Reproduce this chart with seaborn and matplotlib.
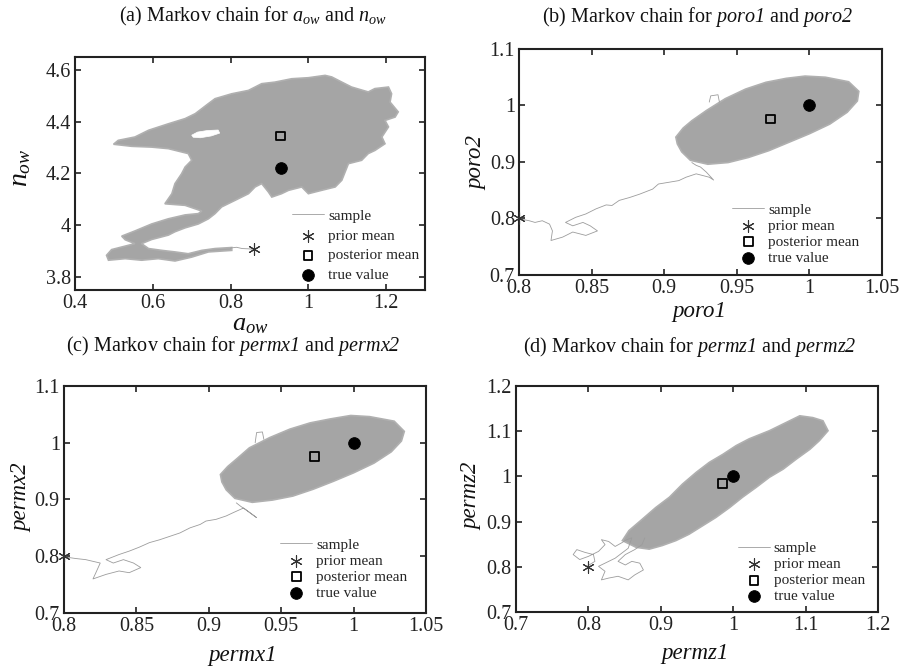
import matplotlib as mpl
import matplotlib.pyplot as plt
import seaborn as sns
import numpy as np

sns.set_style('ticks')
plt.rcParams['font.family'] = ['Liberation Serif', 'DejaVu Serif']
plt.rcParams['mathtext.fontset'] = 'custom'
plt.rcParams['mathtext.rm'] = 'Liberation Serif'
plt.rcParams['mathtext.it'] = 'Liberation Serif:italic'
plt.rcParams['mathtext.bf'] = 'Liberation Serif:bold'
# sf slot used for fully italic words (digits included)
plt.rcParams['mathtext.sf'] = 'Liberation Serif:italic'

GRAY = '#a5a5a5'
LINE_GRAY = '#9c9c9c'

blob_a_x = [0.481, 0.494, 0.520, 0.554, 0.529, 0.520, 0.554, 0.597, 0.640, 0.683, 0.717, 0.726,
            0.683, 0.631, 0.649, 0.657, 0.674, 0.683, 0.700, 0.691, 0.640, 0.597, 0.546, 0.499,
            0.511, 0.554, 0.589, 0.640, 0.683, 0.709, 0.743, 0.760, 0.803, 0.846, 0.880, 0.914,
            0.957, 1.000, 1.043, 1.060, 1.086, 1.111, 1.154, 1.171, 1.206, 1.214, 1.210, 1.231,
            1.223, 1.197, 1.206, 1.189, 1.197, 1.171, 1.154, 1.137, 1.103, 1.086, 1.069, 1.034,
            1.000, 0.983, 0.949, 0.931, 0.906, 0.897, 0.880, 0.863, 0.846, 0.811, 0.777, 0.760,
            0.743, 0.717, 0.683, 0.657, 0.640, 0.597, 0.571, 0.589, 0.623, 0.657, 0.691, 0.726,
            0.760, 0.803, 0.803, 0.743, 0.700, 0.657, 0.614, 0.571, 0.529, 0.486]
blob_a_y = [3.884, 3.906, 3.916, 3.929, 3.944, 3.958, 3.978, 4.005, 4.025, 4.040, 4.045, 4.055,
            4.077, 4.083, 4.122, 4.161, 4.199, 4.225, 4.251, 4.277, 4.296, 4.302, 4.305, 4.313,
            4.328, 4.341, 4.367, 4.392, 4.412, 4.431, 4.470, 4.489, 4.508, 4.521, 4.547, 4.553,
            4.566, 4.570, 4.579, 4.573, 4.553, 4.534, 4.515, 4.528, 4.534, 4.508, 4.476, 4.438,
            4.418, 4.405, 4.380, 4.341, 4.315, 4.289, 4.277, 4.251, 4.238, 4.174, 4.148, 4.135,
            4.122, 4.148, 4.135, 4.122, 4.109, 4.129, 4.161, 4.148, 4.122, 4.096, 4.071, 4.045,
            4.025, 4.005, 3.990, 3.975, 3.962, 3.945, 3.929, 3.910, 3.903, 3.897, 3.890, 3.903,
            3.910, 3.914, 3.903, 3.897, 3.877, 3.862, 3.871, 3.865, 3.871, 3.865]
hole_a_x = [0.700, 0.715, 0.740, 0.768, 0.772, 0.750, 0.722, 0.704]
hole_a_y = [4.348, 4.360, 4.366, 4.368, 4.356, 4.345, 4.338, 4.340]
tail_a_x = [0.800, 0.815, 0.830, 0.845, 0.861]
tail_a_y = [3.912, 3.915, 3.910, 3.909, 3.907]
prior_a, post_a, true_a = (0.861, 3.907), (0.929, 4.345), (0.930, 4.221)

# ---- (b) poro1 / poro2
blob_b_x = [0.908, 0.913, 0.919, 0.929, 0.942, 0.956, 0.970, 0.984, 0.997, 1.011, 1.027, 1.034,
            1.033, 1.026, 1.014, 1.000, 0.986, 0.972, 0.958, 0.944, 0.930, 0.918, 0.912, 0.909]
blob_b_y = [0.944, 0.960, 0.973, 0.991, 1.012, 1.029, 1.041, 1.048, 1.052, 1.050, 1.042, 1.025,
            1.008, 0.988, 0.967, 0.950, 0.935, 0.920, 0.908, 0.899, 0.896, 0.903, 0.918, 0.932]
tail_b_x = [0.801, 0.807, 0.811, 0.816, 0.821, 0.823, 0.822, 0.830, 0.837, 0.846, 0.854, 0.849,
            0.844, 0.837, 0.832, 0.839, 0.846, 0.853, 0.860, 0.864, 0.869, 0.876, 0.883, 0.892,
            0.896, 0.903, 0.910, 0.915, 0.922, 0.931, 0.934, 0.929, 0.925, 0.922, 0.919]
tail_b_y = [0.799, 0.796, 0.793, 0.796, 0.790, 0.778, 0.761, 0.767, 0.776, 0.770, 0.778, 0.787,
            0.793, 0.787, 0.793, 0.802, 0.808, 0.817, 0.824, 0.823, 0.832, 0.837, 0.843, 0.852,
            0.861, 0.864, 0.867, 0.873, 0.879, 0.873, 0.868, 0.882, 0.891, 0.894, 0.899]
loop_b_x = [0.931, 0.932, 0.937, 0.938]
loop_b_y = [1.006, 1.017, 1.019, 1.006]
prior_b, post_b, true_b = (0.800, 0.800), (0.973, 0.976), (1.000, 1.000)

# ---- (c) permx1 / permx2
blob_c_x = [0.908, 0.913, 0.919, 0.928, 0.942, 0.956, 0.970, 0.984, 0.998, 1.011, 1.028, 1.035,
            1.033, 1.026, 1.014, 1.000, 0.986, 0.972, 0.958, 0.944, 0.930, 0.918, 0.912, 0.909]
blob_c_y = [0.944, 0.958, 0.971, 0.991, 1.009, 1.024, 1.035, 1.042, 1.048, 1.046, 1.038, 1.020,
            1.003, 0.984, 0.964, 0.947, 0.932, 0.918, 0.906, 0.899, 0.895, 0.902, 0.917, 0.931]
tail_c_x = [0.800, 0.808, 0.815, 0.820, 0.825, 0.822, 0.820, 0.829, 0.838, 0.845, 0.853, 0.848,
            0.841, 0.834, 0.829, 0.838, 0.845, 0.852, 0.859, 0.866, 0.873, 0.880, 0.887, 0.894,
            0.898, 0.905, 0.912, 0.917, 0.924, 0.933, 0.926, 0.922, 0.919]
tail_c_y = [0.799, 0.796, 0.794, 0.791, 0.788, 0.771, 0.760, 0.768, 0.774, 0.771, 0.780, 0.788,
            0.794, 0.788, 0.794, 0.803, 0.809, 0.816, 0.824, 0.829, 0.835, 0.841, 0.850, 0.856,
            0.862, 0.865, 0.871, 0.877, 0.885, 0.868, 0.881, 0.888, 0.894]
loop_c_x = [0.932, 0.933, 0.937, 0.938]
loop_c_y = [1.000, 1.018, 1.019, 1.006]
prior_c, post_c, true_c = (0.800, 0.800), (0.973, 0.976), (1.000, 1.000)

# ---- (d) permz1 / permz2
blob_d_x = [0.847, 0.856, 0.875, 0.893, 0.912, 0.930, 0.949, 0.967, 0.986, 1.004, 1.022, 1.050,
            1.078, 1.092, 1.110, 1.124, 1.131, 1.119, 1.106, 1.087, 1.069, 1.050, 1.032, 1.013,
            0.995, 0.976, 0.958, 0.939, 0.921, 0.902, 0.884, 0.866]
blob_d_y = [0.858, 0.880, 0.906, 0.931, 0.954, 0.983, 1.009, 1.031, 1.049, 1.068, 1.083, 1.101,
            1.123, 1.134, 1.130, 1.123, 1.101, 1.079, 1.060, 1.038, 1.016, 0.998, 0.976, 0.954,
            0.931, 0.909, 0.891, 0.872, 0.858, 0.847, 0.839, 0.843]
tail_d_x = [0.799, 0.809, 0.807, 0.795, 0.784, 0.779, 0.788, 0.800, 0.814, 0.823, 0.818, 0.828,
            0.837, 0.846, 0.853, 0.860, 0.855, 0.846, 0.837, 0.823, 0.814, 0.823, 0.818, 0.828,
            0.841, 0.855, 0.864, 0.876, 0.871, 0.860, 0.851, 0.841, 0.851, 0.864, 0.874, 0.878]
tail_d_y = [0.802, 0.812, 0.827, 0.832, 0.838, 0.827, 0.816, 0.823, 0.834, 0.849, 0.860, 0.856,
            0.845, 0.853, 0.860, 0.864, 0.841, 0.830, 0.819, 0.808, 0.801, 0.790, 0.771, 0.775,
            0.779, 0.771, 0.782, 0.793, 0.808, 0.812, 0.804, 0.812, 0.827, 0.838, 0.849, 0.864]
prior_d, post_d, true_d = (0.800, 0.800), (0.985, 0.984), (1.000, 1.000)


def draw_panel(ax, bx, by, tx, ty, prior, post, true, xlim, ylim, xticks, yticks,
               anchor, spacing, extra=None, hole=None):
    ax.fill(bx, by, facecolor=GRAY, edgecolor='#b0b0b0', lw=1.2, zorder=1)
    if hole is not None:
        ax.fill(hole[0], hole[1], facecolor='white', edgecolor='white', lw=0.5, zorder=1.5)
    if extra is not None:
        ax.plot(extra[0], extra[1], color=LINE_GRAY, lw=0.6, zorder=2)
    sns.lineplot(x=tx, y=ty, sort=False, estimator=None, color=LINE_GRAY, lw=0.6,
                 label='sample', ax=ax, zorder=2)
    sns.scatterplot(x=[prior[0]], y=[prior[1]], marker=(6, 2, 0), s=70, color='#333333',
                    linewidth=0.8, label='prior mean', ax=ax, zorder=4)
    ax.collections[-1].set_clip_on(False)
    sns.scatterplot(x=[post[0]], y=[post[1]], marker='s', s=40, facecolor='none',
                    edgecolor='black', linewidth=1.3, label='posterior mean', ax=ax, zorder=3)
    sns.scatterplot(x=[true[0]], y=[true[1]], marker='o', s=70, color='black',
                    edgecolor='black', label='true value', ax=ax, zorder=3)
    ax.set_xlim(*xlim)
    ax.set_ylim(*ylim)
    ax.set_xticks(xticks)
    ax.set_yticks(yticks)
    ax.set_xticklabels(['%g' % v for v in xticks])
    ax.set_yticklabels(['%g' % v for v in yticks])
    ax.set_xlabel('')
    ax.set_ylabel('')
    ax.tick_params(direction='in', length=4, width=1.2, top=True, right=True,
                   labelsize=14.5, pad=3, colors='#222222')
    for sp in ax.spines.values():
        sp.set_visible(True)
        sp.set_linewidth(1.5)
        sp.set_color('#222222')
    ax.legend(loc='upper left', bbox_to_anchor=anchor, frameon=False, fontsize=11,
              handlelength=2.1, handletextpad=0.25, labelspacing=spacing,
              borderpad=0, borderaxespad=0)


fig = plt.figure(figsize=(9.03, 6.70), dpi=100)
ax_a = fig.add_axes([0.0831, 0.5672, 0.3876, 0.3477])
ax_b = fig.add_axes([0.5748, 0.5896, 0.4020, 0.3373])
ax_c = fig.add_axes([0.0709, 0.0851, 0.4009, 0.3388])
ax_d = fig.add_axes([0.5714, 0.0866, 0.4009, 0.3373])

draw_panel(ax_a, blob_a_x, blob_a_y, tail_a_x, tail_a_y, prior_a, post_a, true_a,
           (0.4, 1.3), (3.75, 4.65), [0.4, 0.6, 0.8, 1, 1.2], [3.8, 4, 4.2, 4.4, 4.6],
           (0.62, 0.347), 0.4, hole=(hole_a_x, hole_a_y))
draw_panel(ax_b, blob_b_x, blob_b_y, tail_b_x, tail_b_y, prior_b, post_b, true_b,
           (0.8, 1.05), (0.7, 1.1), [0.8, 0.85, 0.9, 0.95, 1, 1.05], [0.7, 0.8, 0.9, 1, 1.1],
           (0.587, 0.318), 0.15, extra=(loop_b_x, loop_b_y))
draw_panel(ax_c, blob_c_x, blob_c_y, tail_c_x, tail_c_y, prior_c, post_c, true_c,
           (0.8, 1.05), (0.7, 1.1), [0.8, 0.85, 0.9, 0.95, 1, 1.05], [0.7, 0.8, 0.9, 1, 1.1],
           (0.597, 0.330), 0.15, extra=(loop_c_x, loop_c_y))
draw_panel(ax_d, blob_d_x, blob_d_y, tail_d_x, tail_d_y, prior_d, post_d, true_d,
           (0.7, 1.2), (0.7, 1.2), [0.7, 0.8, 0.9, 1, 1.1, 1.2], [0.7, 0.8, 0.9, 1, 1.1, 1.2],
           (0.613, 0.311), 0.15)

W, H = 903.0, 670.0
tkw = dict(ha='center', va='center', fontsize=14.5, color='#111111')
fig.text(253 / W, 1 - 16 / H, r'(a) Markov chain for $a_{ow}$ and $n_{ow}$', **tkw)
fig.text(698 / W, 1 - 17 / H, r'(b) Markov chain for $\mathsf{poro1}$ and $\mathsf{poro2}$', **tkw)
fig.text(233 / W, 1 - 346 / H, r'(c) Markov chain for $\mathsf{permx1}$ and $\mathsf{permx2}$', **tkw)
fig.text(690 / W, 1 - 347 / H, r'(d) Markov chain for $\mathsf{permz1}$ and $\mathsf{permz2}$', **tkw)

lkw = dict(ha='center', va='center', color='#111111')
fig.text(21 / W, 1 - 168 / H, r'$n_{ow}$', rotation=90, fontsize=20, **lkw)
fig.text(250 / W, 1 - 325 / H, r'$a_{ow}$', fontsize=19, **lkw)
fig.text(477 / W, 1 - 163 / H, 'poro2', rotation=90, fontsize=16.5, style='italic', **lkw)
fig.text(699 / W, 1 - 311 / H, 'poro1', fontsize=16.5, style='italic', **lkw)
fig.text(22 / W, 1 - 498 / H, 'permx2', rotation=90, fontsize=16.5, style='italic', **lkw)
fig.text(243 / W, 1 - 656 / H, 'permx1', fontsize=16.5, style='italic', **lkw)
fig.text(472 / W, 1 - 496 / H, 'permz2', rotation=90, fontsize=16.5, style='italic', **lkw)
fig.text(695 / W, 1 - 654 / H, 'permz1', fontsize=16.5, style='italic', **lkw)

fig.savefig('out.png', dpi=100)
